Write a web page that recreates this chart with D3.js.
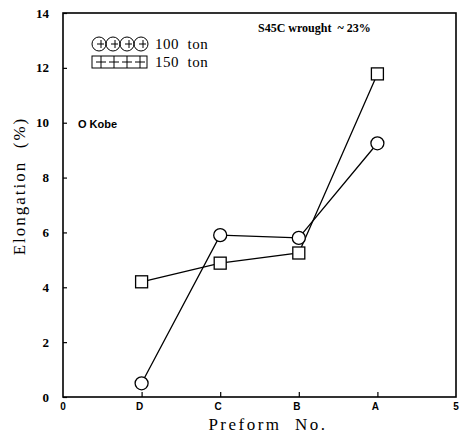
<!DOCTYPE html>
<html><head><meta charset="utf-8">
<script src="https://cdn.jsdelivr.net/npm/d3@7"></script>
<style>body{margin:0;background:#fff}svg{display:block}</style>
</head><body>
<svg id="c" width="461" height="435"></svg>
<script>
const categories = ["D", "C", "B", "A"];
const categoryPos = [1, 2, 3, 4];
const xTickLabels = ["0", "D", "C", "B", "A", "5"];
const xTickValues = [0, 1, 2, 3, 4, 5];
const yTickValues = [0, 2, 4, 6, 8, 10, 12, 14];
const ton100 = [0.5, 5.9, 5.8, 9.25];
const ton150 = [4.2, 4.88, 5.25, 11.78];
const seriesNames = ["100  ton", "150  ton"];

const svg = d3.select("#c");
const L = 63, R = 456, T = 13, B = 397;
const x = d3.scaleLinear().domain([0, 5]).range([L, R]);
const y = d3.scaleLinear().domain([0, 14]).range([B, T]);

// frame
svg.append("rect").attr("x", L).attr("y", T).attr("width", R - L).attr("height", B - T)
  .attr("fill", "none").attr("stroke", "#000").attr("stroke-width", 1.6);

// y axis
const ya = svg.append("g").attr("transform", `translate(${L},0)`)
  .call(d3.axisRight(y).tickValues(yTickValues).tickSize(4).tickFormat(""));
ya.select(".domain").remove();
ya.selectAll("line").attr("stroke-width", 1.2);
svg.append("g").selectAll("text").data(yTickValues).join("text")
  .attr("x", 49).attr("y", d => y(d)).attr("dy", "0.35em").attr("text-anchor", "end")
  .attr("font-family", "Liberation Serif").attr("font-weight", "bold").attr("font-size", 13)
  .text(d => d);

// x axis
const xa = svg.append("g").attr("transform", `translate(0,${B})`)
  .call(d3.axisTop(x).tickValues(categoryPos).tickSize(5).tickFormat(""));
xa.select(".domain").remove();
xa.selectAll("line").attr("stroke-width", 1.2);
svg.append("g").selectAll("text").data(xTickValues).join("text")
  .attr("x", (d, i) => x(d) - (i > 0 && i < 5 ? 2 : 0)).attr("y", 410).attr("text-anchor", "middle")
  .attr("font-family", "Liberation Sans").attr("font-weight", "bold").attr("font-size", 10)
  .text((d, i) => xTickLabels[i]);

// axis titles
svg.append("text").attr("x", 268).attr("y", 430).attr("text-anchor", "middle")
  .attr("font-family", "Liberation Serif").attr("font-size", 17).attr("letter-spacing", 2.5)
  .style("white-space", "pre").text("Preform  No.");
svg.append("text").attr("transform", "translate(25,186) rotate(-90)").attr("text-anchor", "middle")
  .attr("font-family", "Liberation Serif").attr("font-size", 17).attr("letter-spacing", 2)
  .style("white-space", "pre").text("Elongation  (%)");

// lines
const line = d3.line().x((d, i) => x(categoryPos[i])).y(d => y(d));
[ton100, ton150].forEach(s => {
  svg.append("path").datum(s).attr("d", line).attr("fill", "none")
    .attr("stroke", "#000").attr("stroke-width", 1.3);
});
svg.append("g").selectAll("circle").data(ton100).join("circle")
  .attr("cx", (d, i) => x(categoryPos[i])).attr("cy", d => y(d)).attr("r", 6.5)
  .attr("fill", "#fff").attr("stroke", "#000").attr("stroke-width", 1.3);
svg.append("g").selectAll("rect").data(ton150).join("rect")
  .attr("x", (d, i) => x(categoryPos[i]) - 6).attr("y", d => y(d) - 6)
  .attr("width", 12).attr("height", 12)
  .attr("fill", "#fff").attr("stroke", "#000").attr("stroke-width", 1.3);

// legend
const lg = svg.append("g");
[0, 1, 2, 3].forEach(k => {
  const cx = 99 + k * 14, cy = 44;
  lg.append("circle").attr("cx", cx).attr("cy", cy).attr("r", 7)
    .attr("fill", "none").attr("stroke", "#000").attr("stroke-width", 1);
  lg.append("line").attr("x1", cx + 2).attr("x2", cx + 2).attr("y1", cy - 4).attr("y2", cy + 4).attr("stroke", "#000");
  lg.append("line").attr("x1", cx - 2).attr("x2", cx + 5).attr("y1", cy).attr("y2", cy).attr("stroke", "#000");
});
lg.append("rect").attr("x", 92).attr("y", 56).attr("width", 55).attr("height", 12)
  .attr("fill", "none").attr("stroke", "#000");
[0, 1, 2, 3].forEach(k => {
  const cx = 101 + k * 13, cy = 62;
  lg.append("line").attr("x1", cx).attr("x2", cx).attr("y1", cy - 6).attr("y2", cy + 6).attr("stroke", "#000");
  lg.append("line").attr("x1", cx - 5).attr("x2", cx + 5).attr("y1", cy).attr("y2", cy).attr("stroke", "#000");
});
seriesNames.forEach((n, i) => {
  lg.append("text").attr("x", 155).attr("y", 49 + i * 18)
    .attr("font-family", "Liberation Serif").attr("font-size", 15).attr("letter-spacing", 0.5)
    .style("white-space", "pre").text(n);
});

svg.append("text").attr("x", 78).attr("y", 128)
  .attr("font-family", "Liberation Sans").attr("font-weight", "bold").attr("font-size", 11)
  .text("O Kobe");
svg.append("text").attr("x", 258).attr("y", 32)
  .attr("font-family", "Liberation Serif").attr("font-weight", "bold").attr("font-size", 12)
  .style("white-space", "pre").text("S45C wrought  ~ 23%");
</script>
</body></html>
